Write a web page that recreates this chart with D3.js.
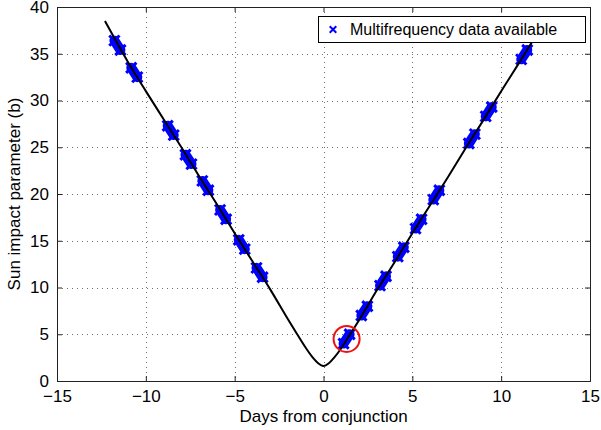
<!DOCTYPE html>
<html>
<head>
<meta charset="utf-8">
<script src="https://cdn.jsdelivr.net/npm/d3@7"></script>
<style>
  html, body { margin: 0; padding: 0; background: #fff; }
  svg { display: block; font-family: "Liberation Sans", Arial, Helvetica, sans-serif; }
</style>
</head>
<body>
<div id="chart"></div>
<script>
// ---- Data ----
// Sun impact parameter curve: days from conjunction vs b
const curveDays = [-12.3, -11, -10, -9, -8, -7, -6, -5, -4, -3, -2, -1.5, -1, -0.6, -0.3, 0, 0.3, 0.6, 1, 1.5, 2, 3, 4, 5, 6, 7, 8, 9, 10, 11, 12.3];
const curveB    = [38.5, 34.1, 31.0, 28.0, 25.0, 21.9, 18.9, 15.8, 12.8, 9.8, 6.6, 5.05, 3.55, 2.5, 1.9, 1.6, 1.9, 2.5, 3.5, 5.0, 6.5, 9.7, 12.7, 15.8, 18.8, 21.8, 24.9, 27.9, 31.0, 34.0, 38.0];

// Passes with multifrequency data available (start / end of each pass)
const passStartDay = [-11.77, -10.82, -8.77, -7.77, -6.82, -5.82, -4.77, -3.77, 1.13, 2.13, 3.18, 4.18, 5.18, 6.18, 8.18, 9.13, 11.13];
const passStartB   = [36.4, 33.5, 27.3, 24.2, 21.4, 18.3, 15.1, 12.1, 4.0, 7.0, 10.2, 13.3, 16.3, 19.4, 25.4, 28.3, 34.4];
const passEndDay   = [-11.43, -10.48, -8.43, -7.43, -6.48, -5.48, -4.43, -3.43, 1.47, 2.47, 3.52, 4.52, 5.52, 6.52, 8.52, 9.47, 11.47];
const passEndB     = [35.4, 32.5, 26.3, 23.2, 20.4, 17.3, 14.1, 11.1, 5.0, 8.0, 11.2, 14.3, 17.3, 20.4, 26.4, 29.3, 35.4];

// Highlighted pass (red circle)
const highlightDay = [1.3];
const highlightB   = [4.5];

const xTicks = [-15, -10, -5, 0, 5, 10, 15];
const yTicks = [0, 5, 10, 15, 20, 25, 30, 35, 40];
const xLabel = "Days from conjunction";
const yLabel = "Sun impact parameter (b)";
const legendLabel = "Multifrequency data available";

// ---- Layout ----
const W = 601, H = 430;
const margin = { left: 57, right: 11, top: 7, bottom: 49 };
const iw = W - margin.left - margin.right;
const ih = H - margin.top - margin.bottom;

const svg = d3.select("#chart").append("svg").attr("width", W).attr("height", H);
const g = svg.append("g").attr("transform", `translate(${margin.left},${margin.top})`);

const x = d3.scaleLinear().domain([-15, 15]).range([0, iw]);
const y = d3.scaleLinear().domain([0, 40]).range([ih, 0]);

const fmt = d => (d < 0 ? "\u2212" + Math.abs(d) : String(d));

// grid
const gridStyle = sel => sel.attr("stroke", "#707070").attr("stroke-width", 1).attr("stroke-dasharray", "1,4");
g.append("g").selectAll("line").data(xTicks.slice(1, -1)).join("line")
  .attr("x1", d => Math.round(x(d)) + 0.5).attr("x2", d => Math.round(x(d)) + 0.5)
  .attr("y1", 0).attr("y2", ih).call(gridStyle);
g.append("g").selectAll("line").data(yTicks.slice(1, -1)).join("line")
  .attr("y1", d => Math.round(y(d)) + 0.5).attr("y2", d => Math.round(y(d)) + 0.5)
  .attr("x1", 0).attr("x2", iw).call(gridStyle);

// axes (ticks inside, box)
const tickLen = 5;
const axB = g.append("g").attr("transform", `translate(0,${ih})`)
  .call(d3.axisBottom(x).tickValues(xTicks).tickFormat(fmt).tickSize(-tickLen).tickPadding(tickLen + 4));
const axT = g.append("g")
  .call(d3.axisTop(x).tickValues(xTicks).tickFormat("").tickSize(-tickLen));
const axL = g.append("g")
  .call(d3.axisLeft(y).tickValues(yTicks).tickFormat(d => d).tickSize(-tickLen).tickPadding(tickLen + 3));
const axR = g.append("g").attr("transform", `translate(${iw},0)`)
  .call(d3.axisRight(y).tickValues(yTicks).tickFormat("").tickSize(-tickLen));
[axB, axT, axL, axR].forEach(a => {
  a.select(".domain").attr("stroke", "#222").attr("stroke-width", 1);
  a.selectAll(".tick line").attr("stroke", "#222");
  a.selectAll("text").attr("fill", "#000").attr("font-size", 17).attr("font-family", "Liberation Sans, Arial, sans-serif");
});

// curve
const curvePts = curveDays.map((d, i) => [d, curveB[i]]);
const line = d3.line().x(d => x(d[0])).y(d => y(d[1])).curve(d3.curveMonotoneX);

// passes: dense blue x markers
const passes = passStartDay.map((d, i) => ({ t0: d, b0: passStartB[i], t1: passEndDay[i], b1: passEndB[i] }));
const pg = g.append("g");
pg.selectAll("line").data(passes).join("line")
  .attr("x1", d => x(d.t0)).attr("y1", d => y(d.b0))
  .attr("x2", d => x(d.t1)).attr("y2", d => y(d.b1))
  .attr("stroke", "#0000ff").attr("stroke-width", 10).attr("stroke-linecap", "round");
const xSym = d3.symbol().type(d3.symbolX).size(70);
const ends = passes.flatMap(p => [[p.t0, p.b0], [p.t1, p.b1]]);
pg.selectAll("path").data(ends).join("path")
  .attr("d", xSym)
  .attr("transform", d => `translate(${x(d[0])},${y(d[1])})`)
  .attr("fill", "none").attr("stroke", "#0000ff").attr("stroke-width", 3);

// curve over the markers
g.append("path").datum(curvePts).attr("d", line)
  .attr("fill", "none").attr("stroke", "#000").attr("stroke-width", 2);

// highlight circle
g.selectAll("circle.hl").data(highlightDay.map((d, i) => [d, highlightB[i]])).join("circle")
  .attr("class", "hl")
  .attr("cx", d => x(d[0])).attr("cy", d => y(d[1])).attr("r", 13)
  .attr("fill", "none").attr("stroke", "#ee1111").attr("stroke-width", 2);

// axis labels
svg.append("text").attr("x", margin.left + iw / 2).attr("y", H - 8)
  .attr("text-anchor", "middle").attr("font-size", 17).text(xLabel);
svg.append("text").attr("transform", `translate(20,${margin.top + ih / 2}) rotate(-90)`)
  .attr("text-anchor", "middle").attr("font-size", 17).text(yLabel);

// legend
const lg = svg.append("g").attr("transform", "translate(318,16)");
lg.append("rect").attr("x", 0.5).attr("y", 0.5).attr("width", 267).attr("height", 26)
  .attr("fill", "#fff").attr("stroke", "#000").attr("stroke-width", 1);
lg.append("path").attr("d", d3.symbol().type(d3.symbolX).size(30))
  .attr("transform", "translate(15,13.5)")
  .attr("fill", "none").attr("stroke", "#0000ff").attr("stroke-width", 2);
lg.append("text").attr("x", 32).attr("y", 19).attr("font-size", 16).text(legendLabel);
</script>
</body>
</html>
